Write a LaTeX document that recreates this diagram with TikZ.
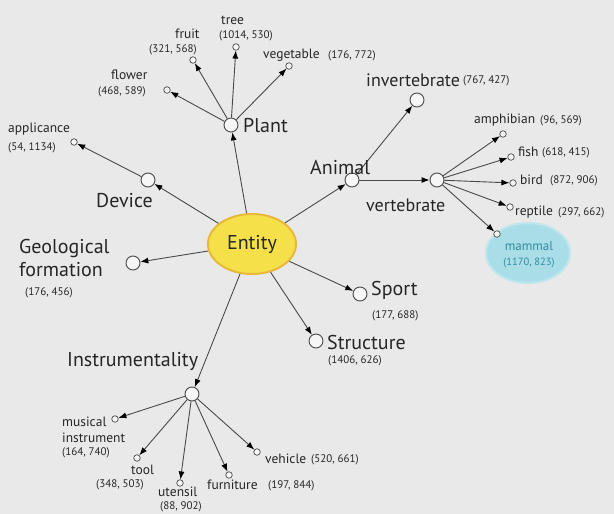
\documentclass[tikz,border=0pt]{standalone}
\usepackage{fontspec}
\setmainfont{PT Sans}
\usetikzlibrary{shapes.geometric,arrows.meta}
\definecolor{bg}{HTML}{E9E9E9}
\definecolor{ink}{HTML}{262626}
\definecolor{edge}{HTML}{4A4A4A}
\definecolor{entfill}{HTML}{F6E04A}
\definecolor{entline}{HTML}{E7B93A}
\definecolor{mamfill}{HTML}{A9DEE9}
\definecolor{mamline}{HTML}{BFE6EE}
\definecolor{mamtext}{HTML}{2F8C9C}
\begin{document}
\begin{tikzpicture}[x=1pt,y=-1pt,
  big/.style={circle,draw=edge,fill=white!60!bg,line width=0.9pt,inner sep=0pt,minimum size=14pt},
  small/.style={circle,draw=edge,fill=white!60!bg,line width=0.7pt,inner sep=0pt,minimum size=6.5pt},
  txtL/.style={text=ink,inner sep=0pt,anchor=west,font=\fontsize{20}{22}\selectfont},
  txtM/.style={text=ink,inner sep=0pt,anchor=west,font=\fontsize{18}{20}\selectfont},
  txtS/.style={text=ink,inner sep=0pt,anchor=west,font=\fontsize{13.5}{15}\selectfont},
  txtN/.style={text=ink,inner sep=0pt,anchor=west,font=\fontsize{11}{12}\selectfont},
  arr/.style={draw=edge,line width=0.9pt,-{Latex[length=8pt,width=6pt,color=black]}}]
\fill[bg] (0,0) rectangle (614,514);
\useasboundingbox (0,0) rectangle (614,514);

% hub
\node[ellipse,draw=entline,line width=2pt,fill=entfill,minimum width=88pt,minimum height=60pt,inner sep=0pt,
      font=\fontsize{20}{22}\selectfont,text=ink] (entity) at (252,244) {Entity};

% mammal highlight
\node[ellipse,draw=mamline,line width=2pt,fill=mamfill,minimum width=84pt,minimum height=60pt] (mamzone) at (528,253) {};
\node[text=mamtext,inner sep=0pt,font=\fontsize{13}{15}\selectfont] (mammal-t) at (529,246) {mammal};
\node[text=mamtext,inner sep=0pt,font=\fontsize{10.5}{12}\selectfont] (mammal-c) at (529,263) {(1170, 823)};

% first level
\node[big] (plant) at (231,125) {};
\node[big] (device) at (148,180) {};
\node[big] (geo) at (133,263) {};
\node[big] (animal) at (352,180) {};
\node[big] (sport) at (360,294) {};
\node[big] (structure) at (316,341) {};
\node[big] (instr) at (192,394) {};

% second level
\node[small] (flower) at (167,90) {};
\node[small] (fruit) at (193,60) {};
\node[small] (tree) at (236,47) {};
\node[small] (vegetable) at (289,66) {};
\node[small] (appl) at (74,142) {};
\node[big] (invert) at (417,100) {};
\node[big] (vert) at (437,180) {};
\node[small] (amph) at (503,134) {};
\node[small] (fish) at (511,157) {};
\node[small] (bird) at (513,183) {};
\node[small] (reptile) at (510,207) {};
\node[small] (mammal) at (497,234) {};
\node[small] (musical) at (115,419) {};
\node[small] (tool) at (137,458) {};
\node[small] (utensil) at (180,483) {};
\node[small] (furniture) at (229,475) {};
\node[small] (vehicle) at (257,452) {};

% connectors
\foreach \c in {plant,device,geo,animal,sport,structure,instr}
  \draw[arr] (entity) -- (\c);
\foreach \c in {flower,fruit,tree,vegetable}
  \draw[arr] (plant) -- (\c);
\draw[arr] (device) -- (appl);
\draw[arr] (animal) -- (invert);
\draw[arr] (animal) -- (vert);
\foreach \c in {amph,fish,bird,reptile,mammal}
  \draw[arr] (vert) -- (\c);
\foreach \c in {musical,tool,utensil,furniture,vehicle}
  \draw[arr] (instr) -- (\c);

% labels
\node[txtL] (plant-t) at (243,126) {Plant};
\node[txtL] (device-t) at (96,201) {Device};
\node[txtL] (geo-t) at (19,248) {Geological};
\node[txtL] (geo-t2) at (19,270) {formation};
\node[txtN] (geo-c) at (25,293) {(176, 456)};
\node[txtL] (animal-t) at (310,168) {Animal};
\node[txtL] (sport-t) at (371,290) {Sport};
\node[txtN] (sport-c) at (372,316) {(177, 688)};
\node[txtL] (structure-t) at (327,342) {Structure};
\node[txtN] (structure-c) at (328,361) {(1406, 626)};
\node[txtL] (instr-t) at (67,361) {Instrumentality};
\node[txtM] (invert-t) at (366,80) {invertebrate};
\node[txtN] (invert-c) at (463,81) {(767, 427)};
\node[txtM] (vert-t) at (366,205) {vertebrate};

\node[txtS] (flower-t) at (111,75) {flower};
\node[txtN] (flower-c) at (98,92) {(468, 589)};
\node[txtS] (fruit-t) at (175,34) {fruit};
\node[txtN] (fruit-c) at (149,50) {(321, 568)};
\node[txtS] (tree-t) at (221,20) {tree};
\node[txtN] (tree-c) at (219,36) {(1014, 530)};
\node[txtS] (vegetable-t) at (263,55) {vegetable};
\node[txtN] (vegetable-c) at (328,56) {(176, 772)};
\node[txtS] (appl-t) at (8,129) {applicance};
\node[txtN] (appl-c) at (8,148) {(54, 1134)};

\node[txtS] (amph-t) at (474,120) {amphibian};
\node[txtN] (amph-c) at (540,121) {(96, 569)};
\node[txtS] (fish-t) at (518,152) {fish};
\node[txtN] (fish-c) at (542,153) {(618, 415)};
\node[txtS] (bird-t) at (520,180) {bird};
\node[txtN] (bird-c) at (550,181) {(872, 906)};
\node[txtS] (reptile-t) at (515,212) {reptile};
\node[txtN] (reptile-c) at (558,213) {(297, 662)};

\node[txtS] (musical-t) at (62,422) {musical};
\node[txtS] (musical-t2) at (62,438) {instrument};
\node[txtN] (musical-c) at (62,453) {(164, 740)};
\node[txtS] (tool-t) at (131,470) {tool};
\node[txtN] (tool-c) at (96,485) {(348, 503)};
\node[txtS] (utensil-t) at (158,492) {utensil};
\node[txtN] (utensil-c) at (160,507) {(88, 902)};
\node[txtS] (furniture-t) at (207,485) {furniture};
\node[txtN] (furniture-c) at (268,486) {(197, 844)};
\node[txtS] (vehicle-t) at (265,459) {vehicle};
\node[txtN] (vehicle-c) at (311,460) {(520, 661)};
\end{tikzpicture}
\end{document}
